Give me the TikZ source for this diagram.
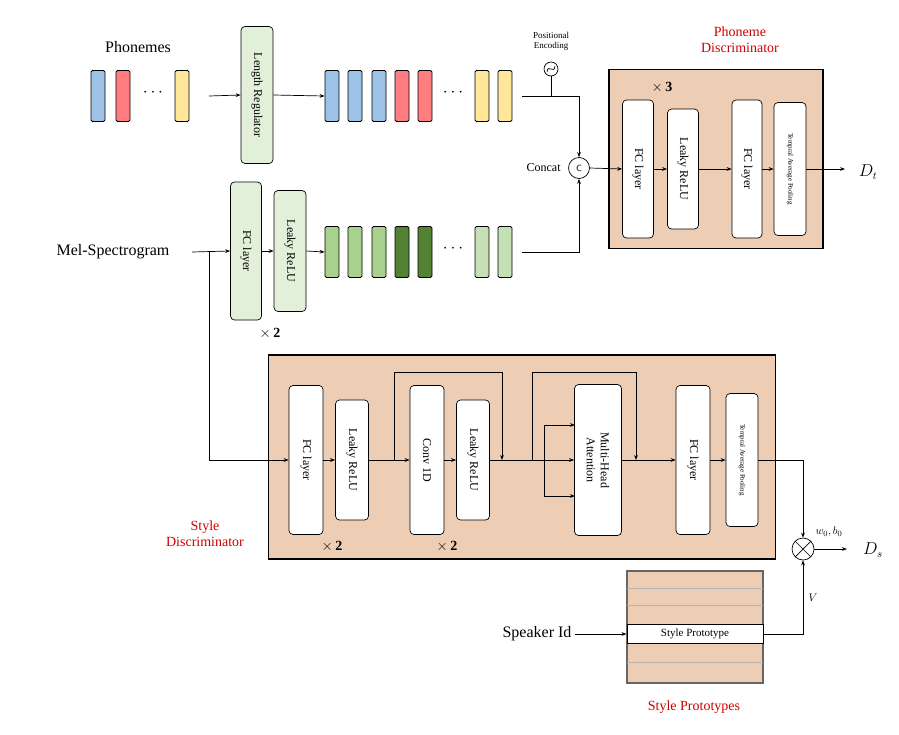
\documentclass[tikz,border=0pt]{standalone}
\usepackage{fontspec}
\setmainfont{Liberation Serif}
\usetikzlibrary{positioning,arrows.meta}
\definecolor{phblue}{HTML}{9DC3E6}
\definecolor{phred}{HTML}{FF7C80}
\definecolor{phyellow}{HTML}{FFE699}
\definecolor{mgreen}{HTML}{A9D18E}
\definecolor{mdark}{HTML}{548235}
\definecolor{mlight}{HTML}{C5E0B4}
\definecolor{boxgreen}{HTML}{E2F0D9}
\definecolor{peach}{HTML}{EDCDB4}
\definecolor{discred}{HTML}{D00000}
\tikzset{
  bar/.style={draw, rounded corners=1.5pt, minimum width=14pt, minimum height=51pt, inner sep=0pt, line width=0.8pt},
  layer/.style={draw, rounded corners=4pt, rotate=-90, inner sep=0pt, fill=white, line width=0.7pt, font=\fontsize{12}{14}\selectfont},
  small/.style={font=\fontsize{9}{10}\selectfont},
  arr/.style={-{Stealth[length=5pt]}, line width=0.7pt},
  ln/.style={line width=0.7pt},
  lbl/.style={font=\fontsize{16}{18}\selectfont},
  red title/.style={text=discred, font=\fontsize{14}{16}\selectfont, align=center},
}
\begin{document}
\begin{tikzpicture}[x=1pt,y=-1pt]
\useasboundingbox (0,0) rectangle (899,734);

% phoneme input
\node[lbl] (phon) at (138,47) {Phonemes};
\foreach \n/\x/\c in {p1/98/phblue, p2/123/phred, p3/182/phyellow}
  \node[bar, fill=\c] (\n) at (\x,96) {};
\node at (153,93) {\fontsize{16}{16}\selectfont$\cdots$};
\node[layer, fill=boxgreen, minimum width=137pt, minimum height=32pt] (lr) at (257,95) {Length Regulator};
\coordinate (pin) at (209,96);
\draw[arr] (pin) -- (lr.south);
\foreach \n/\x/\c in {q1/332/phblue, q2/355/phblue, q3/379/phblue, q4/402/phred, q5/425/phred, q6/482/phyellow, q7/505/phyellow}
  \node[bar, fill=\c] (\n) at (\x,96) {};
\node at (453,93) {\fontsize{16}{16}\selectfont$\cdots$};
\draw[arr] (lr.north) -- (q1.west);

% positional encoding and concat
\node[small, align=center] (pe) at (551,41) {Positional\\Encoding};
\node[draw, circle, minimum size=14pt, inner sep=0pt, line width=0.7pt] (pos) at (551,69) {};
\draw[ln] (pos.center) ++(-4,3) .. controls ++(1,-9) and ++(-1,9) .. ++(8,-6);
\node[draw, circle, minimum size=21pt, inner sep=0pt, line width=0.7pt, font=\sffamily\small] (cat) at (579,168) {C};
\node[font=\fontsize{12}{14}\selectfont, left=4pt of cat] (cattxt) {Concat};
\coordinate (pj) at (551,97);
\draw[ln] (pos) -- (pj);
\draw[arr] (q7.east) ++(10,0) -| (cat.north);

% mel branch
\node[lbl] (mel) at (113,252) {Mel-Spectrogram};
\node[layer, fill=boxgreen, minimum width=138pt, minimum height=31pt] (mfc) at (246,251) {FC layer};
\node[layer, fill=boxgreen, minimum width=121pt, minimum height=32pt] (mrelu) at (290,251) {Leaky ReLU};
\node[font=\bfseries\fontsize{14}{16}\selectfont] (mx2) at (270,333) {$\times$\,2};
\coordinate (mstart) at (192,252);
\coordinate (msplit) at (209,252);
\draw[arr] (mstart) -- (mfc.south);
\draw[arr] (mfc.north) -- (mrelu.south);
\foreach \n/\x/\c in {m1/332/mgreen, m2/355/mgreen, m3/379/mgreen, m4/402/mdark, m5/425/mdark, m6/482/mlight, m7/505/mlight}
  \node[bar, fill=\c] (\n) at (\x,252) {};
\node at (453,249) {\fontsize{16}{16}\selectfont$\cdots$};
\draw[arr] (mrelu.north) -- (m1.west);
\draw[arr] (m7.east) ++(10,0) -| (cat.south);

% phoneme discriminator
\node[draw, fill=peach, line width=1.2pt, minimum width=214pt, minimum height=179pt, inner sep=0pt] (pd) at (716,159) {};
\node[red title] (pdt) at (740,40) {Phoneme\\Discriminator};
\node[font=\bfseries\fontsize{14}{16}\selectfont] (px3) at (662,87) {$\times$\,3};
\node[layer, minimum width=138pt, minimum height=31pt] (pfc1) at (638,169) {FC layer};
\node[layer, minimum width=120pt, minimum height=31pt] (prelu) at (683,169) {Leaky ReLU};
\node[layer, minimum width=138pt, minimum height=30pt] (pfc2) at (747,169) {FC layer};
\node[layer, minimum width=133pt, minimum height=32pt, font=\fontsize{7}{8}\selectfont] (ptap) at (790,169) {Tempral Average Pooling};
\node[font=\fontsize{16}{18}\selectfont] (dt) at (868,172) {$D_t$};
\coordinate (dtend) at (845,169);
\draw[arr] (cat.east) -- (pfc1.south);
\draw[arr] (pfc1.north) -- (prelu.south);
\draw[arr] (prelu.north) -- (pfc2.south);
\draw[arr] (pfc2.north) -- (ptap.south);
\draw[arr] (ptap.north) -- (dtend);

% style discriminator
\node[draw, fill=peach, line width=1.2pt, minimum width=507pt, minimum height=204pt, inner sep=0pt] (sd) at (522,457) {};
\node[red title] (sdt) at (205,534) {Style\\Discriminator};
\node[layer, minimum width=149pt, minimum height=34pt] (sfc1) at (306,460) {FC layer};
\node[layer, minimum width=120pt, minimum height=33pt] (srelu1) at (352,460) {Leaky ReLU};
\node[layer, minimum width=149pt, minimum height=34pt] (sconv) at (427,460) {Conv 1D};
\node[layer, minimum width=120pt, minimum height=33pt] (srelu2) at (473,460) {Leaky ReLU};
\node[layer, minimum width=151pt, minimum height=47pt, align=center] (smha) at (598,460) {Multi-Head\\Attention};
\node[layer, minimum width=149pt, minimum height=34pt] (sfc2) at (693,460) {FC layer};
\node[layer, minimum width=133pt, minimum height=32pt, font=\fontsize{7}{8}\selectfont] (stap) at (742,460) {Tempral Average Pooling};
\node[font=\bfseries\fontsize{14}{16}\selectfont] (sx2a) at (332,546) {$\times$\,2};
\node[font=\bfseries\fontsize{14}{16}\selectfont] (sx2b) at (447,546) {$\times$\,2};
\coordinate (scorner) at (209,460);
\draw[ln] (msplit) -- (scorner);
\draw[arr] (scorner) -- (sfc1.south);
\draw[arr] (sfc1.north) -- (srelu1.south);
\draw[arr] (srelu1.north) -- (sconv.south);
\draw[arr] (sconv.north) -- (srelu2.south);
\draw[arr] (srelu2.north) -- (smha.south);
\draw[arr] (smha.north) -- (sfc2.south);
\draw[arr] (sfc2.north) -- (stap.south);
% residual paths
\coordinate (r1a) at (394,460);
\coordinate (r1b) at (502,460);
\draw[arr] (r1a) -- ++(0,-88) -| (r1b);
\coordinate (r2a) at (532,460);
\coordinate (r2b) at (636,460);
\draw[arr] (r2a) -- ++(0,-88) -| (r2b);
\coordinate (qkv) at (544,460);
\coordinate (kin) at (575,425);
\coordinate (vin) at (575,496);
\draw[arr] (qkv) |- (kin);
\draw[arr] (qkv) |- (vin);

% output
\node[draw, circle, minimum size=22pt, inner sep=0pt, line width=0.7pt] (mul) at (803,549) {};
\draw[ln] (mul.north west) -- (mul.south east) (mul.north east) -- (mul.south west);
\node[font=\fontsize{16}{18}\selectfont] (ds) at (873,550) {$D_s$};
\node[font=\fontsize{11}{12}\selectfont] (wb) at (829,532) {$w_0,b_0$};
\coordinate (dsend) at (847,549);
\draw[arr] (stap.north) -| (mul.north);
\draw[arr] (mul.east) -- (dsend);

% style prototypes
\node[draw=black!60, fill=peach, line width=1.5pt, minimum width=136pt, minimum height=112pt, inner sep=0pt] (sp) at (695,627) {};
\foreach \y in {588,605,662}
  \draw[black!30, line width=0.6pt] (627,\y) -- (763,\y);
\node[draw, fill=white, line width=1pt, minimum width=136pt, minimum height=19pt, inner sep=0pt, font=\fontsize{11}{12}\selectfont] (proto) at (695,634) {Style Prototype};
\node[lbl] (spk) at (537,634) {Speaker Id};
\node[red title] (spt) at (694,707) {Style Prototypes};
\node[font=\fontsize{11}{12}\selectfont] (v) at (813,598) {$V$};
\draw[arr] (spk.east) -- (proto.west);
\draw[arr] (proto.east) -| (mul.south);
\end{tikzpicture}
\end{document}
